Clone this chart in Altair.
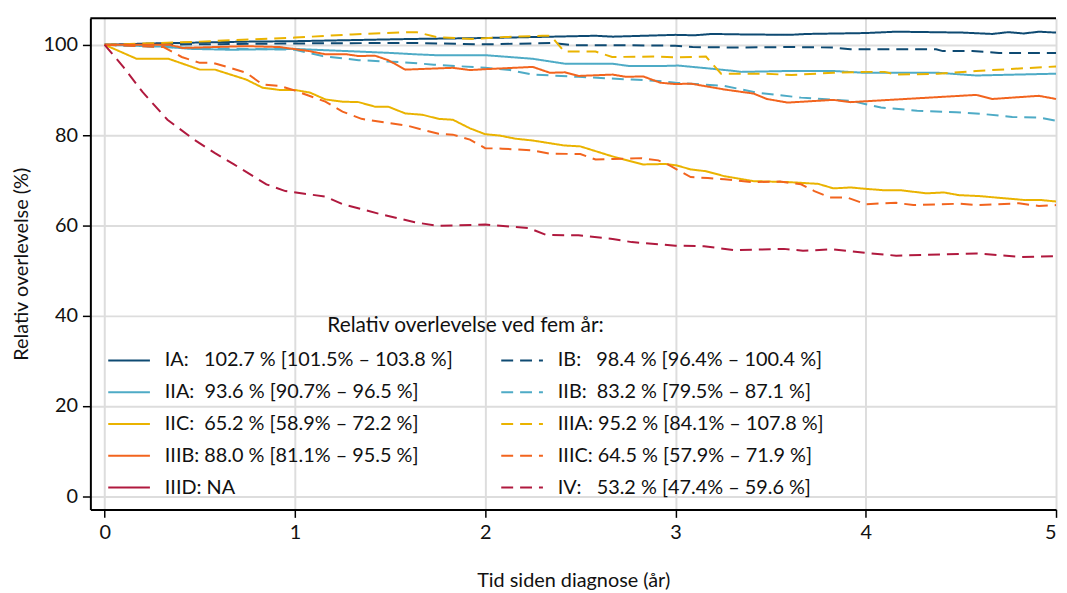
import altair as alt
import pandas as pd

NB = "\u00a0"

stages = ["IA", "IB", "IIA", "IIB", "IIC", "IIIA", "IIIB", "IIIC", "IIID", "IV"]
legend_labels = [
    "IA:" + NB * 3 + "102.7 % [101.5% – 103.8 %]",
    "IB:" + NB * 3 + "98.4 % [96.4% – 100.4 %]",
    "IIA:" + NB * 2 + "93.6 % [90.7% – 96.5 %]",
    "IIB:" + NB * 2 + "83.2 % [79.5% – 87.1 %]",
    "IIC:" + NB * 2 + "65.2 % [58.9% – 72.2 %]",
    "IIIA:" + NB + "95.2 % [84.1% – 107.8 %]",
    "IIIB:" + NB + "88.0 % [81.1% – 95.5 %]",
    "IIIC:" + NB + "64.5 % [57.9% – 71.9 %]",
    "IIID:" + NB + "NA",
    "IV:" + NB * 3 + "53.2 % [47.4% – 59.6 %]",
]
colors = ["#0e4a72", "#0e4a72", "#4eabc6", "#4eabc6", "#eab300", "#eab300",
          "#f2641e", "#f2641e", "#b0193e", "#b0193e"]
dashes = [[1, 0], [12, 7], [1, 0], [12, 7], [1, 0], [12, 7],
          [1, 0], [12, 7], [1, 0], [12, 7]]

ia_x = [0, 0.25, 0.5, 0.75, 1.0, 1.25, 1.5, 1.63, 2.0, 2.355, 2.58, 2.67, 3.0, 3.1, 3.19, 3.35,
        3.6, 3.69, 4.0, 4.16, 4.34, 4.51, 4.665, 4.75, 4.83, 4.91, 5.0]
ia_y = [100, 100.3, 100.5, 100.7, 100.8, 101.0, 101.2, 101.3, 101.5, 101.8, 102.0, 101.8, 102.2,
        102.1, 102.4, 102.3, 102.2, 102.4, 102.6, 102.9, 102.8, 102.7, 102.4, 102.8, 102.5, 102.9, 102.7]

ib_x = [0, 0.5, 1.0, 1.5, 1.63, 2.0, 2.355, 2.46, 2.7, 3.0, 3.09, 3.31, 3.6, 3.83, 3.92, 4.2,
        4.37, 4.405, 4.56, 4.70, 5.0]
ib_y = [100, 100.1, 100.3, 100.4, 100.4, 100.1, 100.4, 99.9, 99.9, 99.8, 99.5, 99.4, 99.5, 99.4,
        99.0, 99.0, 99.0, 98.6, 98.6, 98.2, 98.2]

iia_x = [0, 0.3, 0.45, 0.66, 0.99, 1.16, 1.335, 1.5, 1.63, 1.74, 2.0, 2.25, 2.42, 2.67, 2.755,
         2.93, 3.015, 3.19, 3.31, 3.345, 3.6, 3.83, 3.99, 4.38, 4.58, 5.0]
iia_y = [100, 99.6, 99.1, 98.9, 99.1, 98.8, 98.5, 98.2, 97.9, 97.7, 97.7, 96.9, 95.8, 95.8, 95.3,
         95.3, 95.4, 94.7, 94.2, 94.0, 94.2, 94.2, 93.8, 93.8, 93.2, 93.6]

iib_x = [0, 0.3, 0.6, 1.0, 1.145, 1.335, 1.58, 1.73, 2.0, 2.13, 2.25, 2.49, 2.77, 2.91, 3.0,
         3.257, 3.43, 3.66, 3.92, 4.08, 4.27, 4.475, 4.61, 4.77, 4.91, 5.0]
iib_y = [100, 99.5, 99.2, 98.9, 97.5, 96.6, 96.1, 95.6, 94.9, 94.4, 93.4, 92.9, 92.3, 92.0, 91.6,
         90.9, 89.4, 88.3, 87.6, 86.1, 85.4, 85.05, 84.7, 84.0, 83.9, 83.2]

iic_x = [0, 0.168, 0.336, 0.50, 0.58, 0.744, 0.83, 0.918, 1.0, 1.08, 1.16, 1.25, 1.335, 1.42,
         1.49, 1.58, 1.67, 1.755, 1.83, 1.92, 2.0, 2.075, 2.16, 2.25, 2.415, 2.5, 2.667, 2.83,
         2.945, 3.005, 3.08, 3.16, 3.257, 3.41, 3.59, 3.75, 3.83, 3.92, 4.0, 4.09, 4.18, 4.32,
         4.41, 4.49, 4.595, 4.84, 4.925, 5.0]
iic_y = [100, 96.9, 96.9, 94.5, 94.5, 92.3, 90.5, 90.0, 90.0, 89.4, 87.9, 87.4, 87.3, 86.3, 86.3,
         84.8, 84.5, 83.6, 83.4, 81.5, 80.2, 79.9, 79.2, 78.8, 77.7, 77.5, 75.3, 73.5, 73.6, 73.3,
         72.4, 72.0, 70.9, 69.8, 69.6, 69.2, 68.2, 68.4, 68.1, 67.8, 67.8, 67.1, 67.3, 66.7, 66.5,
         65.6, 65.6, 65.3]

iiia_x = [0, 0.5, 1.0, 1.3, 1.59, 1.64, 1.745, 1.93, 2.1, 2.30, 2.345, 2.415, 2.58, 2.667, 2.91,
          3.0, 3.16, 3.24, 3.47, 3.61, 3.83, 4.0, 4.1, 4.16, 4.38, 4.58, 5.0]
iiia_y = [100, 100.7, 101.6, 102.3, 102.8, 102.8, 101.7, 101.3, 101.7, 102.0, 102.0, 98.5, 98.5,
          97.3, 97.4, 97.2, 97.4, 93.6, 93.6, 93.3, 93.8, 94.0, 94.0, 93.4, 93.6, 94.2, 95.2]

iiib_x = [0, 0.34, 0.41, 0.74, 0.92, 1.075, 1.16, 1.27, 1.335, 1.42, 1.49, 1.58, 1.83, 1.92, 2.0,
          2.25, 2.34, 2.42, 2.49, 2.67, 2.74, 2.83, 2.92, 3.0, 3.08, 3.257, 3.41, 3.48, 3.59, 3.83,
          3.92, 4.58, 4.665, 4.91, 5.0]
iiib_y = [100, 100, 99.3, 99.7, 99.5, 98.6, 97.9, 97.9, 97.5, 97.6, 96.6, 94.5, 94.9, 94.4, 94.6,
          95.1, 93.8, 93.9, 93.1, 93.4, 92.9, 93.0, 91.6, 91.3, 91.4, 90.1, 89.2, 88.0, 87.2, 87.8,
          87.3, 88.9, 88.0, 88.7, 88.0]

iiic_x = [0, 0.31, 0.405, 0.50, 0.57, 0.675, 0.744, 0.83, 0.918, 0.99, 1.16, 1.25, 1.35, 1.44,
          1.59, 1.67, 1.755, 1.83, 1.92, 2.0, 2.09, 2.25, 2.34, 2.5, 2.58, 2.667, 2.82, 2.91, 2.96,
          3.08, 3.17, 3.257, 3.40, 3.55, 3.66, 3.73, 3.81, 3.90, 4.0, 4.16, 4.25, 4.49, 4.595,
          4.805, 4.91, 5.0]
iiic_y = [100, 99.5, 97.3, 96.0, 96.0, 94.7, 93.8, 91.2, 90.9, 90.0, 87.4, 85.2, 83.6, 83.0, 82.1,
          81.2, 80.3, 80.1, 79.0, 77.1, 77.0, 76.6, 75.9, 75.8, 74.6, 74.7, 74.9, 74.4, 73.5, 70.7,
          70.5, 70.2, 69.6, 69.7, 69.1, 67.6, 66.2, 66.2, 64.7, 65.0, 64.5, 64.8, 64.5, 64.9, 64.3,
          64.5]

iiid_x = []
iiid_y = []

iv_x = [0, 0.1, 0.2, 0.33, 0.47, 0.58, 0.68, 0.85, 0.95, 1.05, 1.16, 1.25, 1.44, 1.63, 1.75, 2.0,
        2.23, 2.32, 2.49, 2.67, 2.77, 3.0, 3.15, 3.31, 3.57, 3.67, 3.83, 4.0, 4.16, 4.58, 4.82, 5.0]
iv_y = [100, 95.0, 89.5, 83.4, 79.0, 76.0, 73.5, 69.1, 67.6, 67.0, 66.4, 64.7, 62.6, 60.7, 59.9,
        60.2, 59.4, 57.9, 57.8, 57.0, 56.3, 55.5, 55.4, 54.5, 54.8, 54.4, 54.7, 53.9, 53.3, 53.8,
        53.0, 53.2]

series_x = [ia_x, ib_x, iia_x, iib_x, iic_x, iiia_x, iiib_x, iiic_x, iiid_x, iv_x]
series_y = [ia_y, ib_y, iia_y, iib_y, iic_y, iiia_y, iiib_y, iiic_y, iiid_y, iv_y]

x_ticks = [0, 1, 2, 3, 4, 5]
y_ticks = [0, 20, 40, 60, 80, 100]
x_dom = [-0.075, 5.0]
y_dom = [-2.9, 105.9]

rows = []
for lab, xs, ys in zip(legend_labels, series_x, series_y):
    for xv, yv in zip(xs, ys):
        rows.append({"x": xv, "y": yv, "serie": lab})
df = pd.DataFrame(rows)

FONT = "Lato"
FS = 20

xscale = alt.Scale(domain=x_dom, nice=False, zero=False)
yscale = alt.Scale(domain=y_dom, nice=False, zero=False)

lines = alt.Chart(df).mark_line(strokeWidth=2).encode(
    x=alt.X("x:Q", scale=xscale,
            axis=alt.Axis(values=x_ticks, title="Tid siden diagnose (år)", format="d",
                          titlePadding=29, labelPadding=5)),
    y=alt.Y("y:Q", scale=yscale,
            axis=alt.Axis(values=y_ticks, title="Relativ overlevelse (%)", format="d",
                          titlePadding=12, labelPadding=5)),
    color=alt.Color("serie:N",
                    scale=alt.Scale(domain=legend_labels, range=colors),
                    legend=alt.Legend(
                        title="Relativ overlevelse ved fem år:",
                        orient="none", legendX=17, legendY=299,
                        direction="horizontal",
                        columns=2, columnPadding=44, rowPadding=-2,
                        symbolType="stroke", symbolSize=1764, symbolStrokeWidth=2,
                        labelOffset=14, labelLimit=0, titleLimit=0,
                        titleAnchor="middle", titlePadding=3,
                        labelFontSize=FS, titleFontSize=21, labelFont=FONT, titleFont=FONT,
                        titleFontWeight="normal", labelColor="#111111", titleColor="#111111",
                        padding=0)),
    strokeDash=alt.StrokeDash("serie:N",
                              scale=alt.Scale(domain=legend_labels, range=dashes)),
    order=alt.Order("x:Q"),
)

border = alt.Chart(pd.DataFrame({"a": [0]})).mark_rule(color="black", strokeWidth=2).encode(
    x=alt.datum(x_dom[0], scale=xscale),
    x2=alt.datum(x_dom[1]),
    y=alt.datum(y_dom[1], scale=yscale),
)

chart = alt.layer(lines, border).properties(
    width=973, height=495,
    autosize=alt.AutoSizeParams(type="none"),
    padding={"left": 83, "top": 8, "right": 3, "bottom": 82},
).configure_view(stroke="transparent").configure_axis(
    grid=True, gridColor="#dddddd", gridWidth=2,
    domainColor="black", domainWidth=2,
    tickColor="black", tickSize=8, tickWidth=1.5,
    labelFont=FONT, titleFont=FONT, labelFontSize=FS, titleFontSize=FS,
    titleFontWeight="normal", labelColor="#111111", titleColor="#111111",
)

chart.save("out.html", embed_options={"renderer": "svg", "actions": False})
